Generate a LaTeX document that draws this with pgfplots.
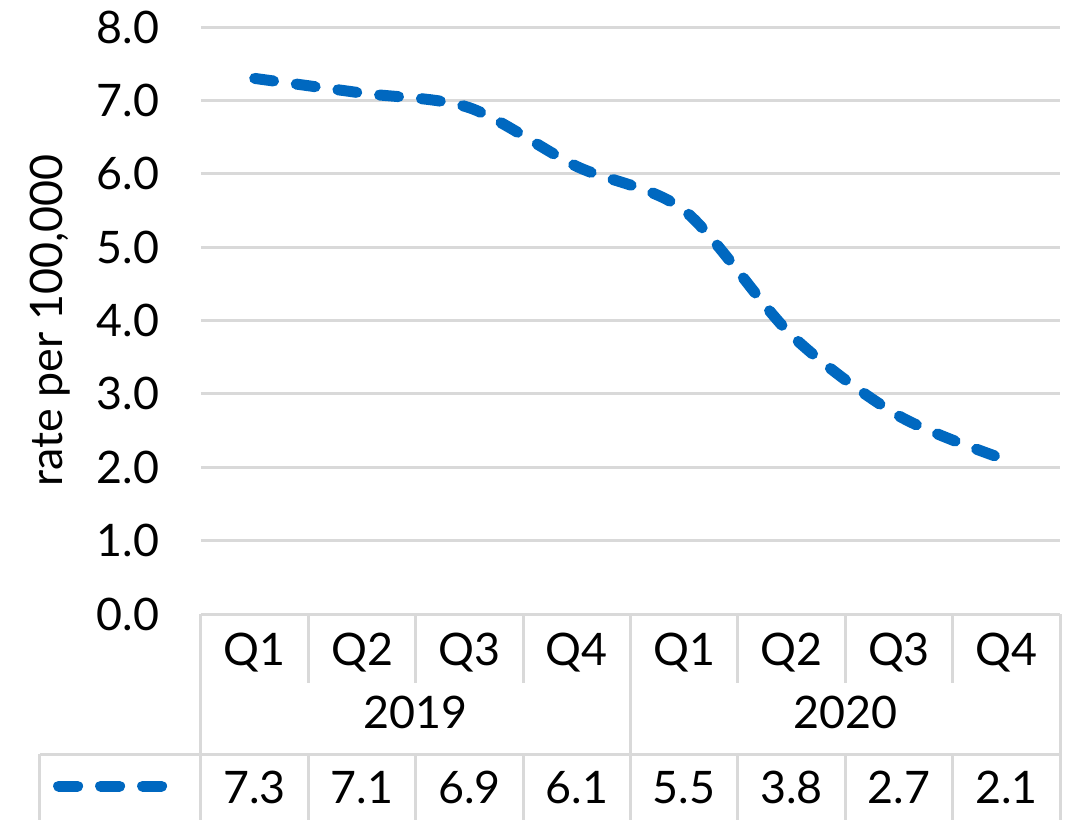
\documentclass[border=0pt]{standalone}
\usepackage{pgfplots}
\pgfplotsset{compat=1.18}
\usepackage{fontspec}
\setmainfont{Lato}
\definecolor{linecol}{HTML}{0068C0}
\definecolor{gridc}{HTML}{D9D9D9}
\begin{document}
\fontsize{11.2}{13}\selectfont
\begin{tikzpicture}
\path[use as bounding box] (-50.25pt,-51.25pt) rectangle (217.5pt,153.5pt);
\begin{axis}[
  at={(0,0)}, anchor=south west,
  scale only axis, width=214.75pt, height=146.75pt,
  xmin=-0.5, xmax=7.5, ymin=0, ymax=8,
  clip=false,
  axis line style={draw=none},
  major tick length=0pt,
  ytick={0,1,...,8},
  ymajorgrids,
  grid style={gridc, line width=0.75pt},
  yticklabel style={/pgf/number format/fixed, /pgf/number format/fixed zerofill, /pgf/number format/precision=1, /pgf/number format/assume math mode=true, anchor=east, inner sep=0pt, xshift=-10.25pt},
  xtick={0,...,7},
  xticklabels={Q1,Q2,Q3,Q4,Q1,Q2,Q3,Q4},
  xticklabel style={anchor=base, inner sep=0pt, yshift=-12.75pt},
  ylabel={rate per 100,000},
  ylabel style={at={(axis description cs:-0.1758,0.5)}, anchor=center, inner sep=0pt},
  font=\fontsize{11.2}{13}\selectfont,
]
\addplot[linecol, line width=2.75pt, line cap=round, dash pattern=on 4.75pt off 5.75pt, smooth, tension=0.5] coordinates {
 (0,7.3) (1,7.1) (2,6.9) (3,6.1) (4,5.5) (5,3.8) (6,2.7) (7,2.1)};
\end{axis}
% table grid
\def\cw{26.84375pt}
\begin{scope}[gridc, line width=0.75pt]
\draw (0,0) -- (214.75pt,0);
\draw (-40.25pt,-35pt) -- (214.75pt,-35pt);
\draw (-40.25pt,-35pt) -- (-40.25pt,-52pt);
\foreach \k in {0,4,8} {\draw (\k*\cw,0) -- (\k*\cw,-52pt);}
\foreach \k in {1,2,3,5,6,7} {\draw (\k*\cw,0) -- (\k*\cw,-17.25pt); \draw (\k*\cw,-35pt) -- (\k*\cw,-52pt);}
\end{scope}
\node[anchor=base, inner sep=0pt] at (2*\cw,-28.5pt) {2019};
\node[anchor=base, inner sep=0pt] at (6*\cw,-28.5pt) {2020};
\foreach \v [count=\i from 0] in {7.3,7.1,6.9,6.1,5.5,3.8,2.7,2.1} {
  \node[anchor=base, inner sep=0pt] at ({(\i+0.5)*\cw},-47.25pt) {\v};
}
\draw[linecol, line width=2.75pt, line cap=round, dash pattern=on 4.75pt off 5.75pt] (-35.6pt,-43pt) -- (-9.6pt,-43pt);
\end{tikzpicture}
\end{document}
